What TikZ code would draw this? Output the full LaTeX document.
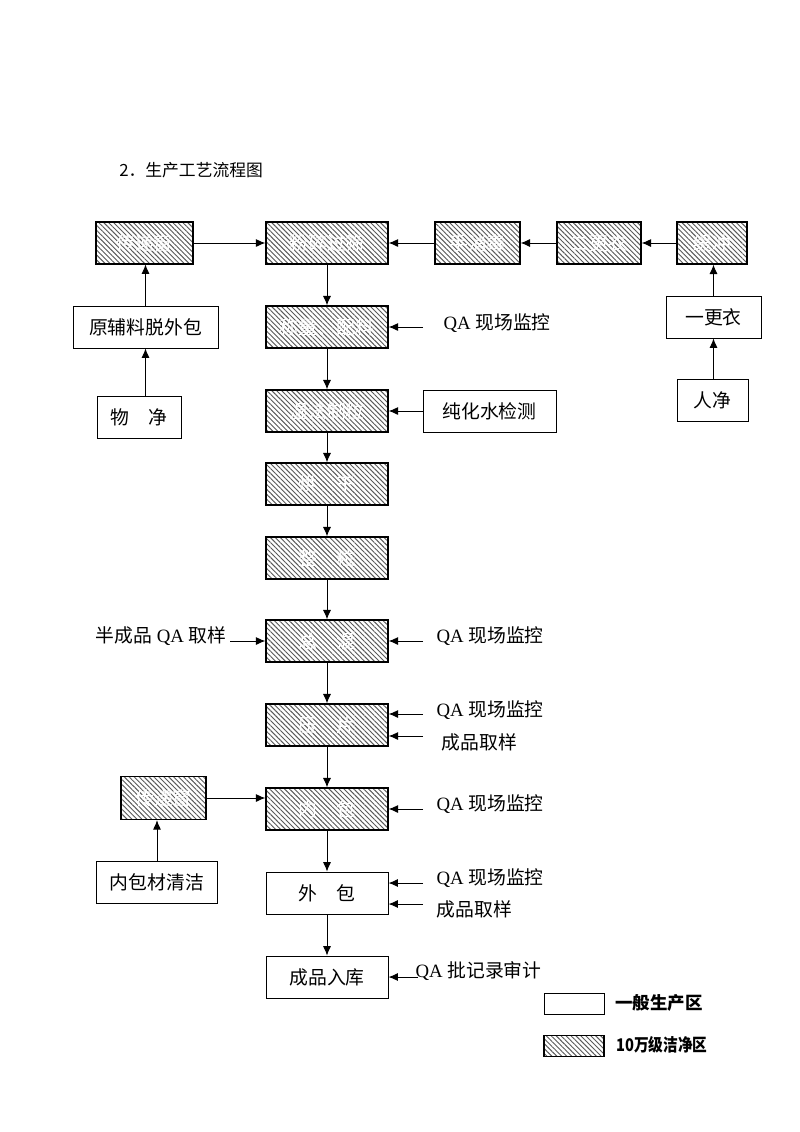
\documentclass[tikz,border=0pt]{standalone}
\usepackage{fontspec}
\setmainfont{Liberation Serif}
\newfontfamily\cjk{Noto Sans CJK SC}
\newfontfamily\cjknarrow[FakeStretch=0.84]{Noto Sans CJK SC}
\usetikzlibrary{arrows,arrows.meta,patterns.meta}

\newcommand{\zh}[1]{{\cjk #1}}

\tikzset{
	box/.style={draw, line width=0.7pt, minimum height=31.2pt, inner sep=0pt,
		font=\cjk\fontsize{14}{16}\selectfont},
	hatch/.style={box, line width=1pt, text=white,
		preaction={fill=white},
		pattern={Lines[angle=-45,distance=2.6pt,line width=0.7pt]}, pattern color=black!65},
	lbl/.style={anchor=west, inner sep=1pt, font=\fontsize{14}{16}\selectfont},
}

\begin{document}
\begin{tikzpicture}[x=0.744pt,y=-0.744pt,>={Latex[length=7pt,width=6pt]}]
	\useasboundingbox (0,0) rectangle (800,1132);
	\node[anchor=west, inner sep=0pt, font=\cjk\fontsize{12.5}{14}\selectfont] (ttl) at (119,170) {2．生产工艺流程图};

	% top row
	\node[hatch, minimum width=72.2pt] (cdc) at (144.5,243) {传递窗};
	\node[hatch, minimum width=90.8pt] (fs) at (327,243) {粉碎过筛};
	\node[hatch, minimum width=63.2pt] (sxd) at (477.5,243) {手消毒};
	\node[hatch, minimum width=62.5pt] (egy) at (599,243) {二更衣};
	\node[hatch, minimum width=52pt] (hc) at (712,243) {缓冲};

	\node[box, minimum width=107.9pt] (flb) at (145.5,327) {原辅料脱外包};
	\node[box, minimum width=62.5pt] (wj) at (139,417) {物\quad 净};
	\node[box, minimum width=70.7pt] (ygy) at (713.5,317) {一更衣};
	\node[box, minimum width=52.8pt] (rj) at (712.5,400) {人净};

	% main column
	\node[hatch, minimum width=90.8pt] (cl) at (327,327) {称量、配料};
	\node[hatch, minimum width=90.8pt] (zl) at (327,411) {湿法制粒};
	\node[box, minimum width=99pt] (csj) at (489.5,411) {纯化水检测};
	\node[hatch, minimum width=90.8pt] (hg) at (327,484) {烘\quad 干};
	\node[hatch, minimum width=90.8pt] (zg) at (327,558) {整\quad 粒};
	\node[hatch, minimum width=90.8pt] (zh) at (327,641) {总\quad 混};
	\node[hatch, minimum width=90.8pt] (yp) at (327,725) {压\quad 片};
	\node[hatch, minimum width=90.8pt] (nb) at (327,809) {内\quad 包};
	\node[hatch, minimum width=63.2pt, minimum height=32pt] (cdc') at (163.5,798) {传递窗};
	\node[box, minimum width=90pt] (nbc) at (157,882) {内包材清洁};
	\node[box, minimum width=90.8pt] (wb) at (327,893) {外\quad 包};
	\node[box, minimum width=90.8pt] (rk) at (327,977) {成品入库};

	% side labels
	\node[lbl] (qa1) at (442,323) {QA \zh{现场监控}};
	\node[lbl] (qa2) at (435,636) {QA \zh{现场监控}};
	\node[lbl, anchor=east] (bcp) at (228,636) {\zh{半成品} QA \zh{取样}};
	\node[lbl] (qa3) at (435,710) {QA \zh{现场监控}};
	\node[lbl] (qy1) at (440,742) {\zh{成品取样}};
	\node[lbl] (qa4) at (435,804) {QA \zh{现场监控}};
	\node[lbl] (qa5) at (435,878) {QA \zh{现场监控}};
	\node[lbl] (qy2) at (435,909) {\zh{成品取样}};
	\node[lbl] (qa6) at (414,971) {QA \zh{批记录审计}};

	\coordinate (a1) at (423,327);
	\coordinate (a2) at (423,641);
	\coordinate (a3) at (230,641);
	\coordinate (a4) at (423,714);
	\coordinate (a5) at (423,736);
	\coordinate (a6) at (423,809);
	\coordinate (a7) at (423,883);
	\coordinate (a8) at (423,904);
	\coordinate (a9) at (418,977);

	% legend
	\node[box, minimum width=44.6pt, minimum height=15pt] (lg1) at (574,1004) {};
	\node[hatch, minimum width=44.6pt, minimum height=16pt] (lg2) at (574,1046) {};
	\node[anchor=west, inner sep=0pt, font=\cjk\bfseries\fontsize{13}{15}\selectfont] (lt1) at (615,1003) {一般生产区};
	\node[anchor=west, inner sep=0pt, font=\cjknarrow\bfseries\fontsize{13}{15}\selectfont] (lt2) at (616,1045) {10万级洁净区};

	\path[->, line width=0.7pt]
		(cdc) edge (fs)
		(sxd) edge (fs)
		(egy) edge (sxd)
		(hc) edge (egy)
		(ygy) edge (ygy |- hc.south)
		(rj.north -| ygy) edge (ygy)
		(flb) edge (flb |- cdc.south)
		(wj.north -| flb) edge (flb)
		(fs) edge (cl)
		(cl) edge (zl)
		(zl) edge (hg)
		(hg) edge (zg)
		(zg) edge (zh)
		(zh) edge (yp)
		(yp) edge (nb)
		(nb) edge (wb)
		(wb) edge (rk)
		(csj) edge (zl)
		(a1) edge (a1 -| cl.east)
		(a2) edge (a2 -| zh.east)
		(a3) edge (a3 -| zh.west)
		(a4) edge (a4 -| yp.east)
		(a5) edge (a5 -| yp.east)
		(a6) edge (a6 -| nb.east)
		(a7) edge (a7 -| wb.east)
		(a8) edge (a8 -| wb.east)
		(a9) edge (a9 -| rk.east)
		(cdc') edge (cdc' -| nb.west)
		(nbc) edge (nbc |- cdc'.south);
\end{tikzpicture}
\end{document}
